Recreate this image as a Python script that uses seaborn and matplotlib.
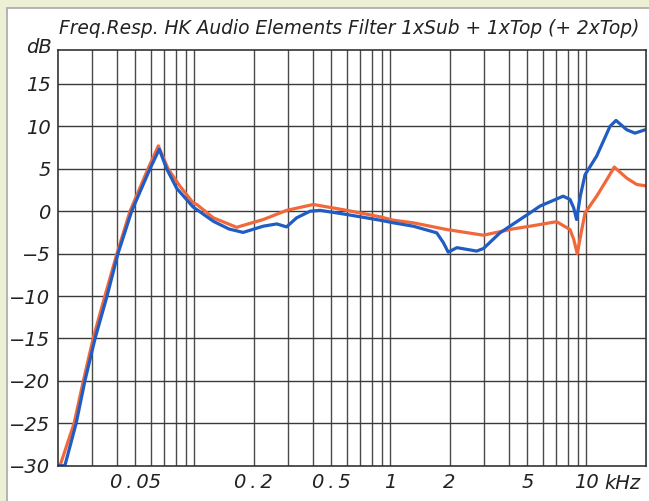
import numpy as np
import pandas as pd
import matplotlib
matplotlib.use("Agg")
import matplotlib.pyplot as plt
import seaborn as sns
from matplotlib.patches import Rectangle

# ---- data (frequency in kHz, level in dB) ----
blue_freq = [0.020, 0.0218, 0.0249, 0.0276, 0.0311, 0.0358, 0.0407, 0.0478, 0.0593, 0.0661,
             0.0721, 0.0811, 0.0983, 0.125, 0.150, 0.177, 0.224, 0.263, 0.295, 0.332,
             0.389, 0.437, 0.598, 0.884, 1.034, 1.307, 1.721, 1.86, 1.97, 2.18,
             2.45, 2.75, 2.98, 3.62, 4.58, 5.15, 5.79, 7.6, 8.24, 8.6,
             8.9, 9.3, 9.83, 11.27, 13.18, 14.14, 16.04, 17.68, 19.9]
blue_db = [-30, -30, -25, -20, -15, -10, -5, 0, 5, 7.3,
           5, 2.7, 0.5, -1.2, -2.1, -2.5, -1.77, -1.5, -1.85, -0.78,
           0.0, 0.1, -0.39, -1.06, -1.37, -1.77, -2.55, -3.7, -4.83, -4.3,
           -4.5, -4.7, -4.4, -2.55, -0.98, -0.2, 0.6, 1.77, 1.38, 0.4,
           -0.98, 1.8, 4.3, 6.5, 10.0, 10.7, 9.6, 9.2, 9.6]

red_freq = [0.0206, 0.0243, 0.0271, 0.0304, 0.0349, 0.0402, 0.0469, 0.0579, 0.0654, 0.0733,
            0.0843, 0.0983, 0.1026, 0.1247, 0.164, 0.2244, 0.2954, 0.4038, 0.598, 0.884,
            1.034, 1.307, 1.935, 2.976, 4.233, 5.15, 6.771, 7.05, 8.24, 8.6,
            8.97, 9.4, 9.83, 11.27, 12.68, 13.86, 16.04, 18.04, 19.9]
red_db = [-30, -25, -20, -15, -10, -5, 0, 5, 7.7, 5,
          2.95, 1.0, 0.8, -0.78, -1.9, -0.98, 0.1, 0.79, 0.1, -0.66,
          -1.06, -1.37, -2.16, -2.83, -2.08, -1.77, -1.3, -1.25, -2.16, -3.3,
          -5.0, -2.5, -0.2, 1.77, 3.7, 5.2, 3.9, 3.15, 3.0]

y_ticks = [15, 10, 5, 0, -5, -10, -15, -20, -25, -30]
x_ticks = [0.05, 0.2, 0.5, 1, 2, 5, 10]
x_tick_labels = ["0.05", "0.2", "0.5", "1", "2", "5", "10"]
title = "Freq.Resp. HK Audio Elements Filter 1xSub + 1xTop (+ 2xTop)"

df = pd.concat([
    pd.DataFrame({"f": red_freq, "dB": red_db, "s": "red"}),
    pd.DataFrame({"f": blue_freq, "dB": blue_db, "s": "blue"}),
])

sns.set_style("white")
plt.rcParams["font.family"] = ["DejaVu Sans"]

W, H = 649, 501
fig = plt.figure(figsize=(W / 100, H / 100), dpi=100)
fig.patch.set_facecolor("#eef0d6")
panel = Rectangle((7 / W, -0.05), 1.1, 1 - 8 / H + 0.05, transform=fig.transFigure,
                  facecolor="white", edgecolor="#a8a8a8", lw=1.2, zorder=-10)
fig.add_artist(panel)

left, right, bottom_px, top_px = 57.5, 645.5, 465.7, 50
ax = fig.add_axes([left / W, 1 - bottom_px / H, (right - left) / W, (bottom_px - top_px) / H])
ax.set_facecolor("white")

sns.lineplot(data=df, x="f", y="dB", hue="s", palette={"red": "#f2683a", "blue": "#1f5cc4"},
             sort=False, estimator=None, lw=2.3, legend=False, ax=ax)

ax.set_xscale("log")
ax.set_xlim(0.02, 20)
ax.set_ylim(-30, 19)

# grid
grid_x = [m * d for d in (0.01, 0.1, 1) for m in range(2, 10)] + [0.1, 1, 10]
for gx in grid_x:
    if 0.02 < gx <= 10:
        ax.axvline(gx, color="#4a4a4a", lw=1.0, zorder=0.5)
for gy in y_ticks:
    if gy > -30:
        ax.axhline(gy, color="#3a3a3a", lw=1.0, zorder=0.5)

FS = 14
ax.set_xticks(x_ticks)
ax.set_xticklabels([s.replace(".", "\u2009.\u2009") for s in x_tick_labels])
ax.xaxis.set_minor_locator(matplotlib.ticker.NullLocator())
ax.set_yticks(y_ticks)
ax.set_yticklabels([str(v).replace("-", "\u2212") for v in y_ticks])
ax.tick_params(length=0, labelsize=FS, colors="#222222", pad=5)
for lab in ax.get_xticklabels() + ax.get_yticklabels():
    lab.set_fontstyle("italic")
ax.tick_params(axis="x", pad=5.5)
ax.set_xlabel("")
ax.set_ylabel("")
for sp in ax.spines.values():
    sp.set_color("#333333")
    sp.set_linewidth(1.2)
    sp.set_visible(True)

ax.annotate("kHz", xy=(10, 0), xycoords=("data", "axes fraction"), xytext=(13, -12.5),
            textcoords="offset points", ha="left", va="center", fontsize=FS,
            fontstyle="italic", color="#222222")
ax.annotate("dB", xy=(0, 1), xycoords="axes fraction", xytext=(-4, 2),
            textcoords="offset points", ha="right", va="center", fontsize=FS,
            fontstyle="italic", color="#222222")
fig.text(349 / W, 1 - 28 / H, title, ha="center", va="center", fontsize=13.4,
         fontstyle="italic", color="#222222")

fig.savefig("out.png", dpi=100, facecolor=fig.get_facecolor())
